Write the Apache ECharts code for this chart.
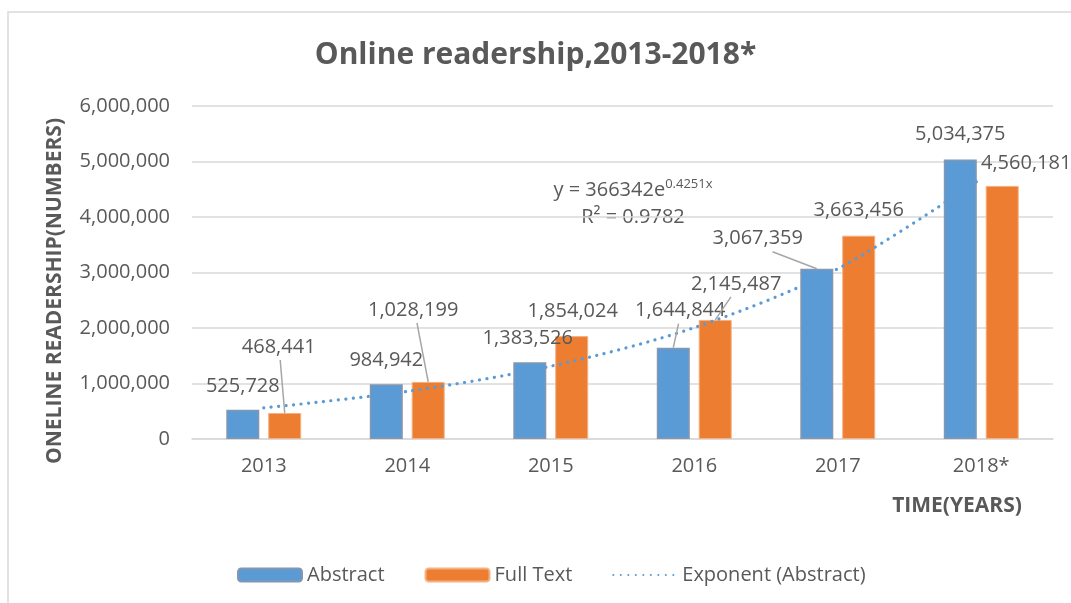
<!DOCTYPE html>
<html>
<head>
<meta charset="utf-8">
<title>Online readership</title>
<script src="https://cdn.jsdelivr.net/npm/echarts@6/dist/echarts.min.js"></script>
<style>
  html, body { margin: 0; padding: 0; background: #fff; }
  #main { width: 1071px; height: 603px; }
</style>
</head>
<body>
<div id="main"></div>
<script>
// data
const years = ['2013', '2014', '2015', '2016', '2017', '2018*']
const abstractReads = [525728, 984942, 1383526, 1644844, 3067359, 5034375]
const fullTextReads = [468441, 1028199, 1854024, 2145487, 3663456, 4560181]
const trendAbstract = [560000, 857000, 1311000, 2006000, 3068000, 4694000] // exponential trendline
const yTicks = [0, 1000000, 2000000, 3000000, 4000000, 5000000, 6000000]

// label nudges (px) away from the default 'top' spot, [abstract, full text]
const labelShift = [
  [[0, -9], [0, -9], [-2, -9], [7, -22], [-59, -15], [0, -10]],
  [[-6, -51], [-15, -57], [1, -10], [21, -21], [0, -10], [24, -8]]
]
// which labels get a leader line
const withLine = [
  [false, false, false, true, true, false],
  [true, true, false, true, false, false]
]

const FONT = '"Open Sans", "Noto Sans", sans-serif'
const GREY = '#595959'
const fmt = v => v.toLocaleString('en-US')

const chart = echarts.init(document.getElementById('main'))

const barLabel = {
  show: true,
  position: 'top',
  distance: 5,
  fontFamily: FONT,
  fontSize: 20,
  color: GREY,
  formatter: p => fmt(p.value)
}

const staticGraphics = [
  {
    id: 'frame',
    type: 'rect',
    silent: true,
    shape: { x: 8, y: 12, width: 1200, height: 800 },
    style: { fill: 'none', stroke: '#d9d9d9', lineWidth: 1.5 }
  },
  {
    id: 'equation',
    type: 'text',
    x: 633,
    y: 204,
    style: {
      text: '{a|y = 366342e}{s|0.4251x}\n{a|R² = 0.9782}',
      align: 'center',
      verticalAlign: 'middle',
      fill: GREY,
      rich: {
        a: { fontFamily: FONT, fontSize: 20, color: GREY, lineHeight: 27 },
        s: { fontFamily: FONT, fontSize: 13, color: GREY, lineHeight: 27, verticalAlign: 'top', padding: [1, 0, 0, 0] }
      }
    }
  },
  {
    id: 'yname',
    type: 'text',
    x: 55,
    y: 291,
    rotation: Math.PI / 2,
    style: {
      text: 'ONELINE READERSHIP(NUMBERS)',
      align: 'center',
      verticalAlign: 'middle',
      fill: GREY,
      font: 'bold 21px ' + FONT
    }
  },
  {
    id: 'xname',
    type: 'text',
    x: 957,
    y: 506,
    style: {
      text: 'TIME(YEARS)',
      align: 'center',
      verticalAlign: 'middle',
      fill: GREY,
      font: 'bold 21px ' + FONT
    }
  }
]

const option = {
  animation: false,
  textStyle: { fontFamily: FONT },
  title: {
    text: 'Online readership,2013-2018*',
    left: 'center',
    top: 35,
    textStyle: { fontFamily: FONT, fontSize: 30, fontWeight: 'bold', color: GREY }
  },
  legend: {
    left: 232,
    top: 560,
    itemWidth: 64,
    itemHeight: 13,
    itemGap: 40,
    textStyle: { fontFamily: FONT, fontSize: 20, color: GREY },
    data: [
      'Abstract',
      'Full Text',
      { name: 'Exponent (Abstract)', itemStyle: { color: 'rgba(0,0,0,0)', borderWidth: 0 } }
    ]
  },
  grid: { left: 192, right: 18, top: 106, bottom: 164 },
  xAxis: {
    type: 'category',
    data: years,
    axisLine: { lineStyle: { color: '#d9d9d9', width: 1.5 } },
    axisTick: { show: false },
    axisLabel: { fontFamily: FONT, fontSize: 20, color: GREY, margin: 17 }
  },
  yAxis: {
    type: 'value',
    min: yTicks[0],
    max: yTicks[yTicks.length - 1],
    interval: yTicks[1] - yTicks[0],
    axisLine: { show: false },
    axisTick: { show: false },
    splitLine: { lineStyle: { color: '#d9d9d9', width: 1.5 } },
    axisLabel: { fontFamily: FONT, fontSize: 20, color: GREY, margin: 22, formatter: fmt }
  },
  series: [
    {
      name: 'Abstract',
      type: 'bar',
      data: abstractReads,
      barWidth: '23%',
      barGap: '27%',
      itemStyle: { color: '#5B9BD5', borderColor: '#8496b0', borderWidth: 1.5 },
      label: barLabel,
      labelLayout: p => ({ dx: labelShift[0][p.dataIndex][0], dy: labelShift[0][p.dataIndex][1] })
    },
    {
      name: 'Full Text',
      type: 'bar',
      data: fullTextReads,
      barWidth: '23%',
      itemStyle: { color: '#ED7D31', borderColor: '#f4b183', borderWidth: 1 },
      label: barLabel,
      labelLayout: p => ({ dx: labelShift[1][p.dataIndex][0], dy: labelShift[1][p.dataIndex][1] })
    },
    {
      name: 'Exponent (Abstract)',
      type: 'line',
      data: trendAbstract,
      smooth: 0.3,
      symbol: 'none',
      z: 5,
      itemStyle: { color: '#5B9BD5' },
      lineStyle: { color: '#5B9BD5', width: 3.2, type: [0.1, 7.4], cap: 'round' }
    }
  ],
  graphic: staticGraphics
}

chart.setOption(option)

// leader lines: from just under each moved label to the top middle of its bar
function leaderLines() {
  const lines = []
  const model = chart.getModel()
  ;[0, 1].forEach(si => {
    const data = model.getSeriesByIndex(si).getData()
    withLine[si].forEach((on, i) => {
      if (!on) return
      const bar = data.getItemGraphicEl(i)
      const text = bar && bar.getTextContent()
      if (!text) return
      const lr = text.getBoundingRect().clone()
      const m = text.getComputedTransform()
      if (m) lr.applyTransform(m)
      const br = bar.getBoundingRect()
      const ex = br.x + br.width / 2
      const ey = br.y
      const cx = lr.x + lr.width / 2
      const sx = cx + 0.25 * (ex - cx)
      const sy = lr.y + lr.height + 3
      lines.push({
        id: 'lead' + si + '_' + i,
        type: 'line',
        silent: true,
        z: 10,
        shape: { x1: sx, y1: sy, x2: ex, y2: ey },
        style: { stroke: '#a6a6a6', lineWidth: 1.5 }
      })
    })
  })
  return lines
}

chart.setOption({ graphic: staticGraphics.concat(leaderLines()) })
</script>
</body>
</html>
